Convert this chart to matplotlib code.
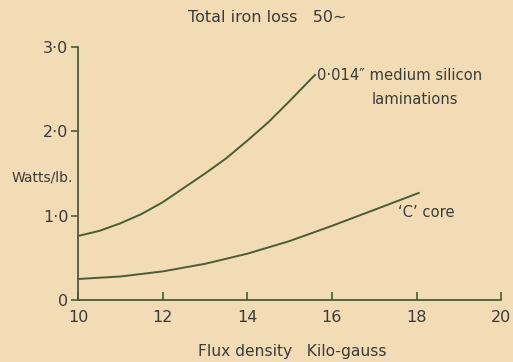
import matplotlib.pyplot as plt

# flux density (kilo-gauss) and total iron loss (watts/lb) at 50 c/s
LAM_FLUX = [10, 10.5, 11, 11.5, 12, 12.5, 13, 13.5, 14, 14.5, 15, 15.6]
LAM_LOSS = [0.76, 0.82, 0.91, 1.02, 1.16, 1.33, 1.50, 1.68, 1.89, 2.11, 2.36, 2.67]

CORE_FLUX = [10, 11, 12, 13, 14, 15, 16, 17, 18.05]
CORE_LOSS = [0.25, 0.28, 0.34, 0.43, 0.55, 0.70, 0.88, 1.07, 1.27]

X_TICKS = [10, 12, 14, 16, 18, 20]
Y_TICKS = [0, 1, 2, 3]
Y_TICK_LABELS = ["0", "1·0", "2·0", "3·0"]

BG = "#f2dcb6"
LINE = "#4b5c34"
TEXT = "#3b3b36"
FONT = "DejaVu Sans"


def main():
    fig = plt.figure(figsize=(5.13, 3.62), dpi=100, facecolor=BG)
    ax = fig.add_axes([0.152, 0.171, 0.825, 0.699])
    ax.set_facecolor(BG)

    ax.plot(LAM_FLUX, LAM_LOSS, color=LINE, lw=1.4)
    ax.plot(CORE_FLUX, CORE_LOSS, color=LINE, lw=1.4)

    ax.set_xlim(10, 20)
    ax.set_ylim(0, 3)
    for side in ("top", "right"):
        ax.spines[side].set_visible(False)
    for side in ("left", "bottom"):
        ax.spines[side].set_color(LINE)
        ax.spines[side].set_linewidth(1.3)

    ax.set_xticks(X_TICKS)
    ax.set_xticklabels([str(t) for t in X_TICKS])
    ax.set_yticks(Y_TICKS)
    ax.set_yticklabels(Y_TICK_LABELS)
    ax.tick_params(axis="x", direction="in", length=6, width=1.2, color=LINE,
                   labelsize=11.5, labelcolor=TEXT, pad=7)
    ax.tick_params(axis="y", direction="out", length=5, width=1.2, color=LINE,
                   labelsize=11.5, labelcolor=TEXT, pad=2)

    fig.text(0.52, 0.952, "Total iron loss   50\u223c", ha="center", va="center",
             fontsize=11.5, color=TEXT, family=FONT)
    fig.text(0.57, 0.028, "Flux density   Kilo-gauss", ha="center", va="center",
             fontsize=11.2, color=TEXT, family=FONT)
    fig.text(0.142, 0.511, "Watts/lb.", ha="right", va="center",
             fontsize=10, color=TEXT, family=FONT)

    ax.text(15.65, 2.66, "0·014\u2033 medium silicon", ha="left", va="center",
            fontsize=10.6, color=TEXT, family=FONT)
    ax.text(16.95, 2.38, "laminations", ha="left", va="center",
            fontsize=10.6, color=TEXT, family=FONT)
    ax.text(17.55, 1.04, "\u2018C\u2019 core", ha="left", va="center",
            fontsize=10.6, color=TEXT, family=FONT)

    plt.savefig("out.png", dpi=100, facecolor=BG)


if __name__ == "__main__":
    main()
